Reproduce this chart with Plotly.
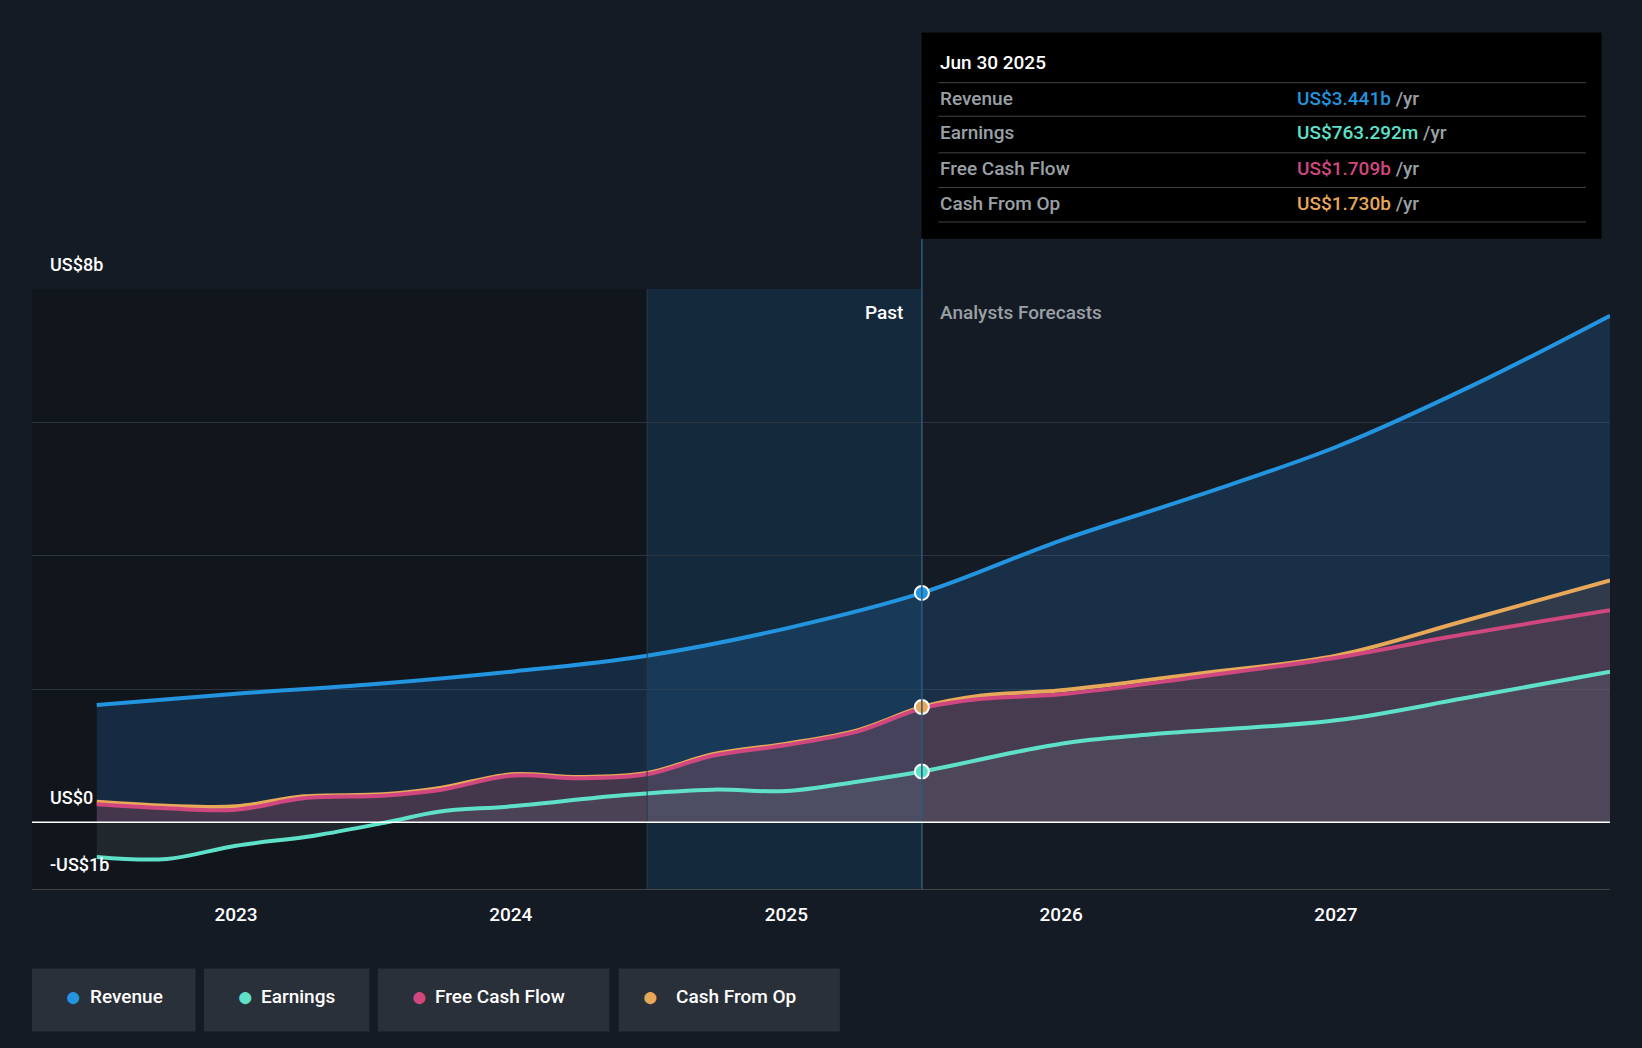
import plotly.graph_objects as go

S = 1642/1568
rev_x = ["2022-06-30","2023-01-01","2023-07-01","2024-01-01","2024-06-30","2025-01-01","2025-06-30","2026-01-01","2026-07-01","2027-01-01","2027-07-01","2027-12-31"]
rev_y = [1.76,1.93,2.07,2.26,2.50,2.91,3.441,4.23,4.90,5.63,6.55,7.6]
ear_x = ["2022-06-30","2022-10-01","2023-01-01","2023-04-15","2023-07-20","2023-09-27","2024-01-01","2024-06-01","2024-09-25","2025-01-01","2025-04-05","2025-06-30","2026-01-01","2026-05-01","2027-01-01","2027-06-20","2027-12-31"]
ear_y = [-0.52,-0.55,-0.35,-0.20,0.0,0.16,0.24,0.41,0.49,0.47,0.61,0.763,1.18,1.32,1.53,1.86,2.26]
cf_x = ["2022-06-30","2022-10-01","2023-01-01","2023-04-01","2023-07-15","2023-10-01","2024-01-01","2024-04-01","2024-06-30","2024-09-25","2025-01-01","2025-04-05","2025-06-30","2025-09-15","2026-01-01","2026-07-01","2027-01-01","2027-06-20","2027-12-31"]
cfo_y = [0.31,0.25,0.24,0.39,0.42,0.52,0.72,0.68,0.74,1.02,1.18,1.38,1.730,1.90,1.98,2.23,2.50,3.02,3.63]
fcf_y = [0.27,0.21,0.19,0.36,0.40,0.49,0.70,0.66,0.72,1.00,1.16,1.36,1.709,1.85,1.92,2.18,2.47,2.82,3.18]
now = "2025-06-30"

fig = go.Figure()
def tr(x, y, c, fill):
    fig.add_trace(go.Scatter(x=x, y=y, mode="lines", line=dict(color=c, width=4, shape="spline"),
                             fill="tozeroy", fillcolor=fill, hoverinfo="skip", showlegend=False))
tr(rev_x, rev_y, "#2394df", "rgba(35,100,160,0.28)")
tr(cf_x, cfo_y, "#e8a85a", "rgba(180,120,100,0.15)")
tr(cf_x, fcf_y, "#d0477f", "rgba(200,70,110,0.15)")
tr(ear_x, ear_y, "#5fe0c9", "rgba(120,140,150,0.15)")
for x, y, c in [(now,3.441,"#2394df"),(now,1.73,"#e8a85a"),(now,0.763,"#5fe0c9")]:
    fig.add_trace(go.Scatter(x=[x], y=[y], mode="markers", marker=dict(color=c, size=14, line=dict(color="white", width=2)), showlegend=False, hoverinfo="skip"))

def px(v): return (v-31)/1506
def py(v): return (849-v)/573
shapes = [
    dict(type="rect", xref="x", yref="paper", x0="2022-04-01", x1="2024-06-30", y0=0, y1=1, fillcolor="#11161c", line_width=0, layer="below"),
    dict(type="rect", xref="x", yref="paper", x0="2024-06-30", x1=now, y0=0, y1=1, fillcolor="rgba(22,52,78,0.6)", line_width=0, layer="below"),
    dict(type="line", xref="x", yref="paper", x0="2024-06-30", x1="2024-06-30", y0=0, y1=1, line=dict(color="#2a3a48", width=1)),
    dict(type="line", xref="x", yref="paper", x0=now, x1=now, y0=0, y1=py(228), line=dict(color="#2e5a7a", width=1.5)),
    dict(type="rect", xref="paper", yref="paper", x0=px(880), x1=px(1529), y0=py(228), y1=py(31), fillcolor="#000000", line_width=0),
    dict(type="line", xref="paper", yref="y", x0=0, x1=1, y0=0, y1=0, line=dict(color="white", width=1.5)),
]
for yy in [79,111,146,179,212]:
    shapes.append(dict(type="line", xref="paper", yref="paper", x0=px(896), x1=px(1514), y0=py(yy), y1=py(yy), line=dict(color="#444", width=1)))
ann = [
    dict(x=px(896), y=py(60), text="Jun 30 2025", font=dict(color="white", size=19, weight=500)),
    dict(x=px(46), y=py(253), text="US$8b", font=dict(color="white", size=18, weight=500)),
    dict(x=px(46), y=py(762), text="US$0", font=dict(color="white", size=18, weight=500)),
    dict(x=px(46), y=py(826), text="-US$1b", font=dict(color="white", size=18, weight=500)),
    dict(x=px(896), y=py(298), text="Analysts Forecasts", font=dict(color="#9aa0a6", size=19, weight=500)),
    dict(x=px(864), y=py(298), text="Past", font=dict(color="white", size=19, weight=500), xanchor="right"),
]
rows = [("Revenue","US$3.441b","#2394df",94),("Earnings","US$763.292m","#5fe0c9",127),("Free Cash Flow","US$1.709b","#d0477f",161),("Cash From Op","US$1.730b","#e8a85a",194)]
for n, v, c, yy in rows:
    ann.append(dict(x=px(896), y=py(yy), text=n, font=dict(color="#9aa0a6", size=19, weight=500)))
    ann.append(dict(x=px(1236), y=py(yy), text=f"<span style='color:{c}'>{v}</span> <span style='color:#9aa0a6'>/yr</span>", font=dict(size=19, weight=500)))
for a in ann:
    a.update(xref="paper", yref="paper", showarrow=False, xanchor=a.get("xanchor","left"), yanchor="middle")
legend = [("Revenue","#2394df",31,187),("Earnings","#5fe0c9",195,353),("Free Cash Flow","#d0477f",361,582),("Cash From Op","#e8a85a",591,802)]
for n, c, x0, x1 in legend:
    shapes.append(dict(type="rect", xref="paper", yref="paper", x0=px(x0), x1=px(x1), y0=py(985), y1=py(925), fillcolor="#2a3039", line_width=0))
    ann.append(dict(xref="paper", yref="paper", x=px(x0+30), y=py(952), text="●", font=dict(color=c, size=28), showarrow=False, yanchor="middle"))
    ann.append(dict(xref="paper", yref="paper", x=px(x0+53), y=py(952), text=n, font=dict(color="white", size=19, weight=500), showarrow=False, xanchor="left", yanchor="middle"))

fig.update_layout(
    width=1642, height=1048, paper_bgcolor="#151b24", plot_bgcolor="#151b24",
    margin=dict(l=31*S, r=31*S, t=276*S, b=152*S), shapes=shapes, annotations=ann,
    font=dict(family="Roboto", color="white"),
    xaxis=dict(range=["2022-04-05","2027-12-31"], showgrid=False, tickvals=["2023-01-01","2024-01-01","2025-01-01","2026-01-01","2027-01-01"],
               ticktext=["2023","2024","2025","2026","2027"], tickfont=dict(size=19, color="white", weight=500),
               showline=True, linecolor="#444", ticks="outside", ticklen=8, tickcolor="rgba(0,0,0,0)"),
    yaxis=dict(range=[-1, 8], tickvals=[0,2,4,6,8], showticklabels=False, gridcolor="#2d343d", zeroline=False),
)
fig.write_html("out.html", config={"displayModeBar": False},
               post_script="document.body.style.margin='0';document.body.style.background='#151b24';")
